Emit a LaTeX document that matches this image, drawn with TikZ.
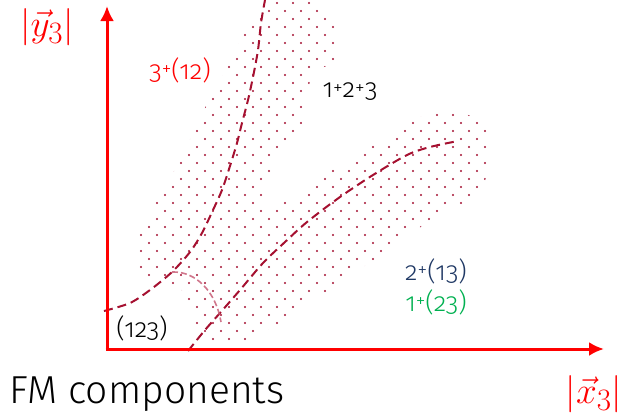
\documentclass[tikz,border=0pt]{standalone}
\usepackage{fontspec}
\setmainfont{Fira Sans}[UprightFont=* Light, Numbers=OldStyle]
\usepackage{graphicx}
\usetikzlibrary{arrows.meta}
\definecolor{axisred}{RGB}{255,0,0}
\definecolor{dotred}{RGB}{163,18,50}
\definecolor{curvered}{RGB}{165,16,48}
\definecolor{arcpink}{RGB}{200,95,120}
\definecolor{navyblue}{RGB}{31,56,100}
\definecolor{officegreen}{RGB}{0,176,80}
\newcommand\pp{\raisebox{.12em}{\scalebox{.75}{+}}}
\newcommand\biglbl[1]{\scalebox{1.5}{$#1$}}
\begin{document}
\begin{tikzpicture}[x=1pt,y=-1pt,
  axis/.style={draw=axisred, line width=3pt, -{Latex[length=15pt,width=14pt]}},
  bordercurve/.style={draw=curvered, line width=2pt, dash pattern=on 9pt off 5pt},
  arcline/.style={draw=arcpink, line width=1.6pt, dash pattern=on 6pt off 3pt, opacity=.85},
  lbl/.style={inner sep=0pt, font=\fontsize{26}{28}\selectfont},
  mathlbl/.style={inner sep=0pt, text=axisred, font=\fontsize{24.88}{26}\selectfont},
  ]
\useasboundingbox (0,0) rectangle (627,416);

% dotted region
\begin{scope}
\clip plot[smooth cycle, tension=0.55] coordinates {
  (212,343) (196,328) (190,305) (178,287) (150,279) (137,262) (136,240)
  (150,212) (168,182) (184,152) (200,118) (216,86) (230,62) (240,40)
  (258,15) (270,-4) (312,-4) (337,25) (337,60) (314,72) (306,100)
  (300,128) (280,150) (272,172) (263,196) (268,208) (284,202) (306,192)
  (318,183) (330,170) (355,160) (372,146) (396,136) (410,121) (436,112)
  (456,112) (481,120) (489,132) (489,163) (481,190) (464,205) (440,214)
  (426,222) (417,230) (401,238) (385,252) (377,262) (352,270) (342,280)
  (329,292) (298,303) (296,318) (280,326) (257,334) (248,342)};
\foreach \k in {0,...,43} {
  \pgfmathsetmacro\off{5+8*mod(\k,2)}
  \foreach \i in {8,...,30}
    \fill[dotred] ({\off+16*\i},{3+8*\k}) circle (1.2);
}
\end{scope}

% dashed boundaries
\coordinate (J) at (172,272);
\draw[bordercurve] plot[smooth] coordinates {(104,311) (130,303) (150,290)
  (J) (190,252) (202,233) (213,210) (222,190) (230,166) (237,143)
  (242,123) (248,100) (253,77) (258,50) (261,23) (265,0)};
\draw[bordercurve] plot[smooth] coordinates {(188,351) (205,330) (220,313)
  (240,290) (263,263) (285,242) (307,222) (340,197) (373,175) (407,155)
  (430,147) (458,141)};
\draw[arcline] (J) .. controls (196,271) and (216,292) .. (221,322);

% axes
\coordinate (O) at (107,349);
\coordinate (ytip) at (107,6);
\coordinate (xtip) at (604,349);
\draw[axis] ([yshift=-1.5pt]O) -- (ytip);
\draw[axis] ([xshift=-1.5pt]O) -- (xtip);

% labels
\node[mathlbl] (ylab) at (47,27) {\biglbl{|\vec{y}_3|}};
\node[mathlbl] (xlab) at (594,394) {\biglbl{|\vec{x}_3|}};
\node[lbl, text=axisred] (l312) at (180,70) {3\pp(12)};
\node[lbl] (l123s) at (350,92) {1\pp2\pp3};
\node[lbl, text=navyblue] (l213) at (436,271) {2\pp(13)};
\node[lbl, text=officegreen] (l123g) at (436,302) {1\pp(23)};
\node[lbl] (l123) at (142,328) {(123)};
\node[inner sep=0pt, anchor=base west, font=\fontsize{39}{42}\selectfont] (fm) at (9,403) {FM components};
\end{tikzpicture}
\end{document}
